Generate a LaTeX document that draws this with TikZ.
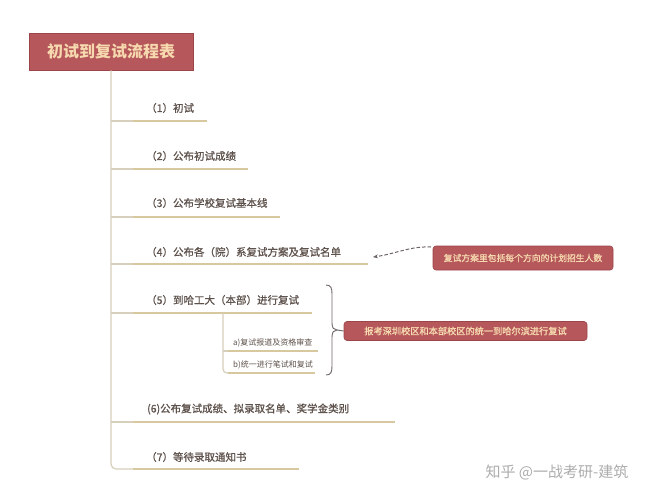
\documentclass[tikz,border=0pt]{standalone}
\usepackage{fontspec}
\setmainfont{Noto Sans CJK SC}
\newfontfamily\medfont[FakeBold=0.8]{Noto Sans CJK SC}
\newfontfamily\semifont[FakeBold=1.2]{Noto Sans CJK SC}
\usetikzlibrary{arrows.meta}
\definecolor{boxred}{HTML}{B5575B}
\definecolor{boxedge}{HTML}{9C4549}
\definecolor{boxtext}{HTML}{F6D9AE}
\definecolor{itemtext}{HTML}{5E524C}
\definecolor{ulcol}{HTML}{D8C8A0}
\definecolor{trunkcol}{HTML}{D6CFBB}
\definecolor{bracecol}{HTML}{6E6666}
\tikzset{
  titlebox/.style={fill=boxred, draw=boxedge, line width=0.6pt, text=boxtext, font=\fontsize{16}{18}\selectfont\bfseries, inner sep=0pt},
  callout/.style={fill=boxred, draw=boxedge, line width=0.6pt, rounded corners=3pt, text=boxtext, inner sep=0pt},
  item/.style={text=itemtext, font=\medfont\fontsize{10.5}{12}\selectfont, inner sep=0pt, anchor=west},
  subitem/.style={text=itemtext, font=\fontsize{8}{9}\selectfont, inner sep=0pt, anchor=west},
  ul/.style={draw=ulcol, line width=2.6pt},
  branch/.style={draw=trunkcol, line width=1.2pt},
  bracestyle/.style={draw=bracecol, line width=0.9pt},
}
\begin{document}
\begin{tikzpicture}[x=1pt,y=-1pt]
\useasboundingbox[fill=white] (0,0) rectangle (671,500);

% title
\node[titlebox, minimum width=164pt, minimum height=37pt] (title) at (111,51.5) {初试到复试流程表};

% items
\node[item] (t1) at (146,108) {（1）初试};
\node[item] (t2) at (146,156) {（2）公布初试成绩};
\node[item] (t3) at (146,203) {（3）公布学校复试基本线};
\node[item] (t4) at (146,252) {（4）公布各（院）系复试方案及复试名单};
\node[item] (t5) at (146,300) {（5）到哈工大（本部）进行复试};
\node[item] (t6) at (147,409) {(6)公布复试成绩、拟录取名单、奖学金类别};
\node[item] (t7) at (146,457) {（7）等待录取通知书};

\coordinate (b1) at (111,121); \coordinate (s1) at (133,121); \coordinate (e1) at (207,121);
\coordinate (b2) at (111,169); \coordinate (s2) at (133,169); \coordinate (e2) at (248,169);
\coordinate (b3) at (111,217); \coordinate (s3) at (133,217); \coordinate (e3) at (280,217);
\coordinate (b4) at (111,264); \coordinate (s4) at (133,264); \coordinate (e4) at (368,264);
\coordinate (b5) at (111,313); \coordinate (s5) at (133,313); \coordinate (e5) at (312,313);
\coordinate (b6) at (111,422); \coordinate (s6) at (133,422); \coordinate (e6) at (395,422);
\coordinate (b7) at (111,469); \coordinate (s7) at (133,469); \coordinate (e7) at (299,469);

% trunk
\draw[branch, rounded corners=5pt] (title.south) -- (b7) -- (s7);
\foreach \i in {1,...,6} { \draw[branch] (b\i) -- (s\i); }
\foreach \i in {1,...,7} { \draw[ul] (s\i) -- (e\i); }

% sub items
\node[subitem] (ta) at (233,343) {a)复试报道及资格审查};
\node[subitem] (tb) at (233,365) {b)统一进行笔试和复试};
\coordinate (v5) at (223,313);
\coordinate (va) at (223,351); \coordinate (sa) at (228,351); \coordinate (ea) at (318,351);
\coordinate (vb) at (223,373); \coordinate (sb) at (228,373); \coordinate (eb) at (315,373);
\draw[branch, rounded corners=4pt] (v5) -- (vb) -- (sb);
\draw[branch] (va) -- (sa);
\draw[draw=ulcol, line width=2pt] (sa) -- (ea);
\draw[draw=ulcol, line width=2pt] (sb) -- (eb);

% callouts
\node[callout, minimum width=180pt, minimum height=24pt, font=\semifont\fontsize{8.8}{10}\selectfont] (c1) at (523,258) {复试方案里包括每个方向的计划招生人数};
\node[callout, minimum width=243pt, minimum height=19pt, font=\semifont\fontsize{9.2}{10}\selectfont] (c2) at (465.5,331) {报考深圳校区和本部校区的统一到哈尔滨进行复试};

% dashed arrow
\coordinate (a4) at (373,257);
\coordinate (c1s) at (431,247);
\draw[draw=bracecol, line width=1pt, dash pattern=on 3.5pt off 2pt, -{Stealth[length=5pt,width=4pt]}] (c1s) .. controls (410,246) and (395,254) .. (a4);

% brace
\coordinate (bt) at (326,285);
\coordinate (bbot) at (326,375);
\coordinate (btip) at (337,330);
\draw[bracestyle] (bt) .. controls (331,285) and (332,288) .. (332,294) -- (332,323) .. controls (332,328) and (334,330) .. (btip) .. controls (334,330) and (332,332) .. (332,337) -- (332,366) .. controls (332,372) and (331,375) .. (bbot);
\draw[bracestyle] (btip) -- (c2.west);

% watermark
\node[text=black!32, font=\fontsize{15}{17}\selectfont, inner sep=0pt] (wm) at (557,472) {知乎 @一战考研-建筑};
\end{tikzpicture}
\end{document}
